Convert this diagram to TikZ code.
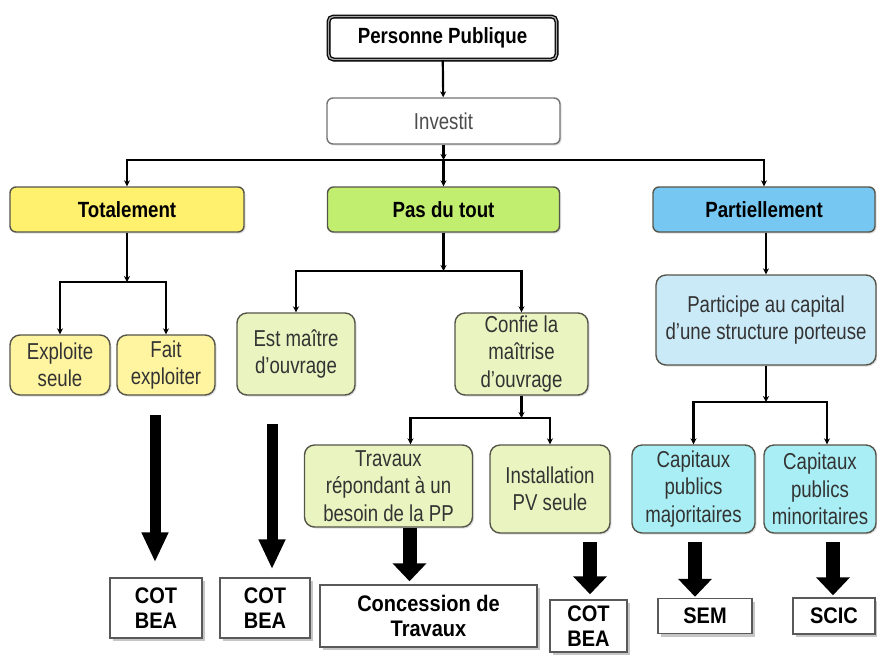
\documentclass[tikz,border=0pt]{standalone}
\usepackage{fontspec}
\setmainfont{Liberation Sans}[FakeStretch=0.81]
\newfontfamily\headfont{Liberation Sans}[FakeStretch=0.85]
\newfontfamily\resfont{Liberation Sans}[FakeStretch=0.89]
\usetikzlibrary{arrows.meta,shadows}
\definecolor{totyel}{HTML}{FFF06E}
\definecolor{totlite}{HTML}{FFF5A0}
\definecolor{pasgrn}{HTML}{C2EE70}
\definecolor{paslite}{HTML}{EAF4C0}
\definecolor{parblu}{HTML}{76C8F2}
\definecolor{parlite}{HTML}{CBEAF8}
\definecolor{capcyan}{HTML}{A8EEF4}
\definecolor{edgec}{HTML}{55554A}
\begin{document}
\begin{tikzpicture}[x=1pt,y=-1pt,
    box/.style={draw=edgec,line width=1.4pt,rounded corners=6pt,align=center,inner sep=2pt,
      font=\headfont\bfseries\fontsize{22}{26}\selectfont,
      drop shadow={shadow xshift=1.5pt,shadow yshift=-1.5pt,opacity=.25}},
    sub/.style={box,rounded corners=10pt,font=\fontsize{23}{27.5}\selectfont,text=black!80},
    res/.style={draw=black!65,line width=1.5pt,fill=white,align=center,inner sep=2pt,
      font=\resfont\bfseries\fontsize{22.5}{25}\selectfont,
      drop shadow={shadow xshift=3pt,shadow yshift=-3pt,opacity=.45}},
    conn/.style={line width=2.2pt,-{Stealth[length=6pt,width=6pt]}},
    link/.style={line width=2.2pt},
    bigA/.style={line width=11pt,-{Triangle[length=30pt,width=25pt]}},
    bigB/.style={line width=14pt,-{Triangle[length=18pt,width=33pt]}}]
  \useasboundingbox (0,0) rectangle (877,654);
  \node[box,fill=white,draw=black,line width=1.3pt,double=black!35,double distance=1.4pt,
    rounded corners=5pt,minimum width=228pt,minimum height=43pt,drop shadow={opacity=0}] (pp) at (442.5,38) {Personne Publique};
  \node[sub,fill=white,draw=black!55,text=black!70,rounded corners=6pt,
    minimum width=233pt,minimum height=46pt] (inv) at (443.5,121) {Investit};
  \node[box,fill=totyel,minimum width=234pt,minimum height=45pt] (tot) at (127,209.5) {Totalement};
  \node[box,fill=pasgrn,minimum width=232pt,minimum height=45pt] (pas) at (443.5,209.5) {Pas du tout};
  \node[box,fill=parblu,minimum width=222pt,minimum height=45pt] (par) at (764,209.5) {Partiellement};
  \node[sub,fill=totlite,minimum width=100pt,minimum height=60pt] (exs) at (60,365) {Exploite\\seule};
  \node[sub,fill=totlite,minimum width=98pt,minimum height=60pt] (fex) at (166,365) {Fait\\exploiter};
  \node[sub,fill=paslite,minimum width=118pt,minimum height=82pt] (est) at (296,354) {Est maître\\d’ouvrage};
  \node[sub,fill=paslite,minimum width=133pt,minimum height=82pt] (cnf) at (521.5,354) {Confie la\\maîtrise\\d’ouvrage};
  \node[sub,fill=paslite,minimum width=168pt,minimum height=82pt] (trv) at (388.5,486) {Travaux\\répondant à un\\besoin de la PP};
  \node[sub,fill=paslite,minimum width=120pt,minimum height=88pt] (ins) at (550,489) {Installation\\PV seule};
  \node[sub,fill=parlite,minimum width=220pt,minimum height=90pt] (prt) at (766,320) {Participe au capital\\d’une structure porteuse};
  \node[sub,fill=capcyan,minimum width=123pt,minimum height=88pt] (maj) at (693.5,489) {Capitaux\\publics\\majoritaires};
  \node[sub,fill=capcyan,minimum width=112pt,minimum height=88pt] (min) at (820,489) {Capitaux\\publics\\minoritaires};
  \node[res,minimum width=92pt,minimum height=60pt] (cot1) at (156,608) {COT\\BEA};
  \node[res,minimum width=90pt,minimum height=60pt] (cot2) at (265,608) {COT\\BEA};
  \node[res,minimum width=217pt,minimum height=62pt] (con) at (428.5,616) {Concession de\\Travaux};
  \node[res,minimum width=77pt,minimum height=52pt] (cot3) at (588.5,626) {COT\\BEA};
  \node[res,minimum width=94pt,minimum height=35pt] (sem) at (705,616) {SEM};
  \node[res,minimum width=82pt,minimum height=36pt] (scic) at (834,616) {SCIC};
  \coordinate (b0) at (443.5,160);
  \coordinate (b1) at (127,282);
  \coordinate (b2) at (443.5,271);
  \coordinate (b3) at (521.5,418);
  \coordinate (b4) at (766,402);
  \begin{scope}[conn]
    \draw (pp) -- (inv);
    \draw[link] (inv) -- (b0);
    \draw (b0) -| (tot.north);
    \draw (b0) -- (pas.north);
    \draw (b0) -| (par.north);
    \draw[link] (tot) -- (b1);
    \draw (b1) -| (exs.north);
    \draw (b1) -| (fex.north);
    \draw[link] (pas) -- (b2);
    \draw (b2) -| (est.north);
    \draw (b2) -| (cnf.north);
    \draw[link] (cnf) -- (b3);
    \draw (b3) -| ([xshift=22pt]trv.north);
    \draw (b3) -| (ins.north);
    \draw (prt.north |- par.south) -- (prt.north);
    \draw[link] (prt) -- (b4);
    \draw (b4) -| (maj.north);
    \draw (b4) -| ([xshift=7pt]min.north);
  \end{scope}
  \coordinate (a1) at (155,415);
  \coordinate (a2) at (272,424);
  \coordinate (a3) at ([xshift=21pt]trv.south);
  \coordinate (a4) at (590,542);
  \coordinate (a5) at (695,542);
  \coordinate (a6) at (833,542);
  \draw[bigA,shorten >=15pt] (a1) -- (a1 |- cot1.north);
  \draw[bigA,shorten >=8pt] (a2) -- (a2 |- cot2.north);
  \draw[bigB,shorten >=3pt] (a3) -- (a3 |- con.north);
  \draw[bigB,shorten >=5pt] (a4) -- (a4 |- cot3.north);
  \draw[bigB,shorten >=1pt] (a5) -- (a5 |- sem.north);
  \draw[bigB,shorten >=2pt] (a6) -- (a6 |- scic.north);
\end{tikzpicture}
\end{document}
